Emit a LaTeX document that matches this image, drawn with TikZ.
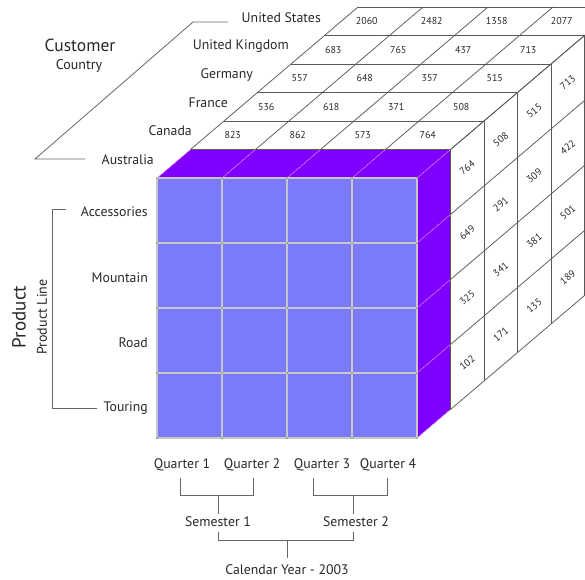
\documentclass[tikz,border=0pt]{standalone}
\usepackage{fontspec}
\setmainfont{PT Sans}
\definecolor{frontc}{RGB}{122,122,250}
\definecolor{purp}{RGB}{127,0,255}
\definecolor{pinkl}{RGB}{235,160,235}
\definecolor{txt}{RGB}{40,40,40}
\begin{document}
\begin{tikzpicture}[x=1pt,y=-1pt,
  gridline/.style={draw=black!65, line width=0.75pt},
  pinkline/.style={draw=pinkl, line width=0.7pt, dash pattern=on 1.2pt off 0.8pt},
  frontline/.style={draw=black!22, line width=1.6pt},
  bracket/.style={draw=black!60, line width=0.9pt},
  numtop/.style={font=\fontsize{10}{11}\selectfont, text=txt, inner sep=0pt},
  numside/.style={font=\fontsize{10}{11}\selectfont, text=txt, inner sep=0pt, rotate=40},
  country/.style={font=\fontsize{13.8}{15}\selectfont, text=txt, anchor=east, inner sep=0pt},
  lab/.style={font=\fontsize{13.8}{15}\selectfont, text=txt, inner sep=0pt}]
\useasboundingbox (0,0) rectangle (585,579);
\begin{scope}
\clip (0,0) rectangle (585,579);
% purple slab
\fill[purp] (157,178) -- (190.5,149.5) -- (450.5,149.5) -- (450.5,409.5) -- (417,438) -- (417,178) -- cycle;
% front face
\fill[frontc] (157,178) rectangle (417,438);
\foreach \j in {0,...,4} {
  \draw[frontline] ({157+65*\j},178) -- ({157+65*\j},438);
  \draw[frontline] (157,{178+65*\j}) -- (417,{178+65*\j});
}
\foreach \j in {0,...,4} \foreach \i in {0,...,4}
  \fill[black!55!green!60] ({157+65*\j},{178+65*\i}) circle (1pt);
% pink lines on purple
\foreach \j in {0,...,4}
  \draw[pinkline] ({157+65*\j},178) -- ({190.5+65*\j},149.5);
\foreach \i in {1,...,4}
  \draw[pinkline] (417,{178+65*\i}) -- (450.5,{149.5+65*\i});
% top face grid
\foreach \k in {1,...,6}
  \draw[gridline] ({157+33.5*\k},{178-28.5*\k}) -- ({417+33.5*\k},{178-28.5*\k});
\foreach \j in {0,...,4}
  \draw[gridline] ({190.5+65*\j},149.5) -- ({358+65*\j},7);
% right face grid
\foreach \k in {1,...,6}
  \draw[gridline] ({417+33.5*\k},{178-28.5*\k}) -- ({417+33.5*\k},{438-28.5*\k});
\foreach \i in {0,...,4}
  \draw[gridline] (450.5,{149.5+65*\i}) -- (618,{7+65*\i});
% top numbers
\foreach \row [count=\k] in {{823,862,573,764},{536,618,371,508},{557,648,357,515},{683,765,437,713},{2060,2482,1358,2077}} {
  \foreach \v [count=\jj] in \row {
    \node[numtop] (t\k-\jj) at ({157+65*(\jj-1)+32.5+33.5*(\k+0.5)-7},{178-28.5*(\k+0.5)}) {\v};
  }
}
% side numbers
\foreach \col [count=\k] in {{764,649,325,102},{508,291,341,171},{515,309,381,135},{713,422,501,189}} {
  \foreach \v [count=\ii] in \col {
    \node[numside] (s\k-\ii) at ({417+33.5*(\k+0.5)},{178+65*(\ii-1)+32.5-28.5*(\k+0.5)}) {\v};
  }
}
\end{scope}
% country labels
\node[country] (aus) at (154,160) {Australia};
\node[country] (can) at (192,131) {Canada};
\node[country] (fra) at (228,103) {France};
\node[country] (ger) at (253,75) {Germany};
\node[country] (uk)  at (289,46) {United Kingdom};
\node[country] (us)  at (321,18) {United States};
\node[font=\fontsize{17.5}{18}\selectfont, text=txt, inner sep=0pt] (cust) at (80,45) {Customer};
\node[font=\fontsize{14}{15}\selectfont, text=txt, inner sep=0pt] (ctry) at (79,66) {Country};
\coordinate (cb1) at (85,159);
\coordinate (cb2) at (35,159);
\coordinate (cb3) at (193,22);
\coordinate (cb4) at (228,22);
\draw[bracket, line width=0.8pt] (cb1) -- (cb2) -- (cb3) -- (cb4);
% product labels
\node[lab, anchor=east] (acc) at (148,212) {Accessories};
\node[lab, anchor=east] (mtn) at (148,278) {Mountain};
\node[lab, anchor=east] (road) at (148,343) {Road};
\node[lab, anchor=east] (tour) at (148,408) {Touring};
\node[font=\fontsize{19}{20}\selectfont, text=txt, inner sep=0pt, rotate=90] (prod) at (19,317) {Product};
\node[font=\fontsize{14}{15}\selectfont, text=txt, inner sep=0pt, rotate=90] (pline) at (42,317) {Product Line};
\coordinate (pb1) at (66,209);
\coordinate (pb2) at (52,209);
\coordinate (pb3) at (52,408);
\coordinate (pb4) at (97,408);
\draw[bracket] (pb1) -- (pb2) -- (pb3) -- (pb4);
% time labels
\node[lab] (q1) at (182,465) {Quarter 1};
\node[lab] (q2) at (252,465) {Quarter 2};
\node[lab] (q3) at (322,465) {Quarter 3};
\node[lab] (q4) at (388,465) {Quarter 4};
\node[lab] (s1) at (218,522) {Semester 1};
\node[lab] (s2) at (356,522) {Semester 2};
\node[lab] (cy) at (287,570) {Calendar Year - 2003};
\draw[bracket] (180,478) -- (180,495) -- (253,495) -- (253,478);
\draw[bracket] (218,495) -- (218,514);
\draw[bracket] (313,478) -- (313,495) -- (387,495) -- (387,478);
\draw[bracket] (353,495) -- (353,514);
\draw[bracket] (218,532) -- (218,540) -- (353,540) -- (353,532);
\draw[bracket] (287,540) -- (287,558);
\end{tikzpicture}
\end{document}
